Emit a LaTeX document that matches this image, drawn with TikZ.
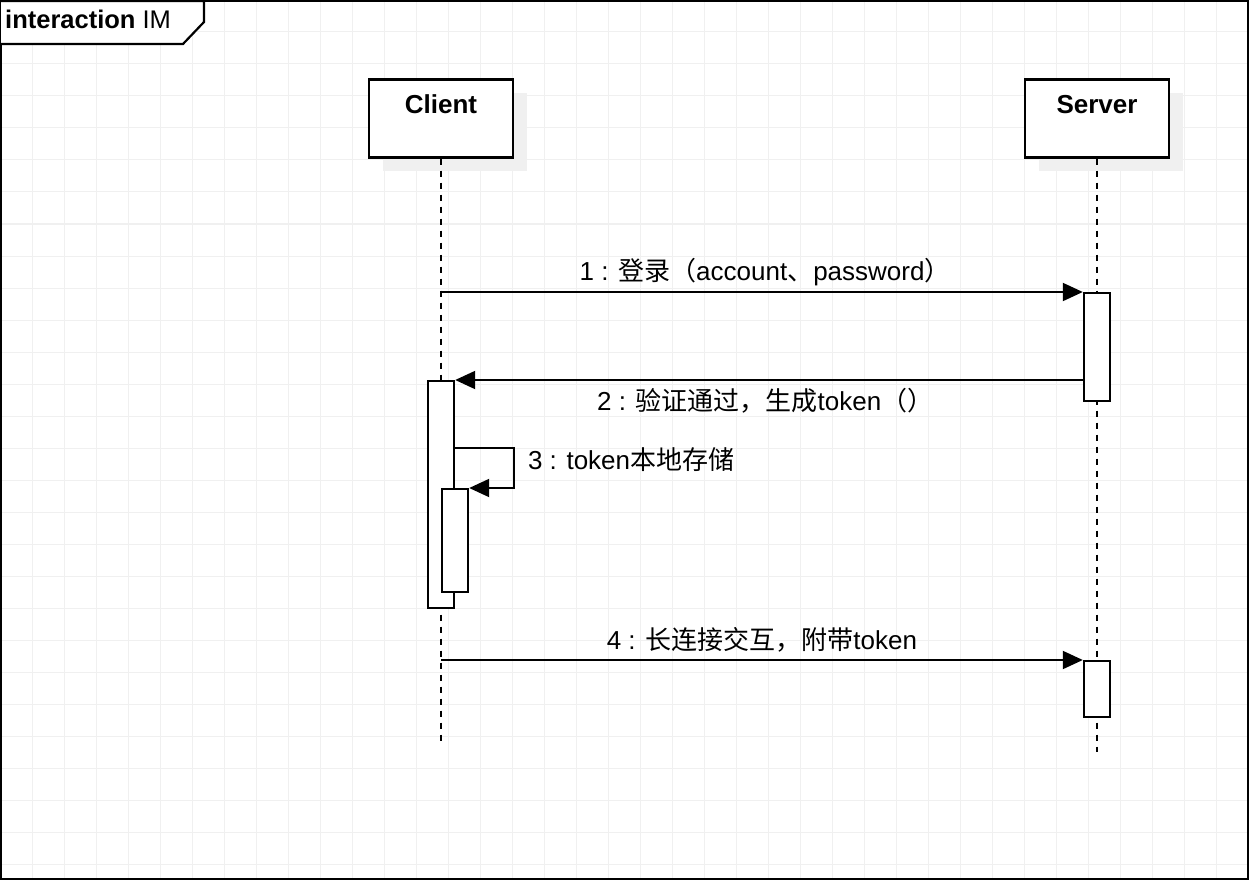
\documentclass[tikz,border=0pt]{standalone}
\usepackage{fontspec}
\setmainfont{Liberation Sans}
\newfontfamily\cjk{Noto Sans CJK SC}
\usepackage{tikz}
\usetikzlibrary{arrows.meta, positioning, calc, shadows}
\definecolor{gridgray}{RGB}{240, 240, 240}
\definecolor{shadowgray}{RGB}{240, 240, 240}
\newcommand{\zh}[1]{{\cjk #1}}

\tikzset{
    gridline/.style={gridgray, line width=1pt},
    head/.style={draw, line width=2.4pt, fill=white, minimum width=144pt, minimum height=78pt,
        text height=18pt, text depth=27pt, font=\fontsize{26}{30}\selectfont\bfseries,
        general shadow={fill=shadowgray, shadow xshift=14pt, shadow yshift=-14pt}},
    lifeline/.style={line width=2pt, dash pattern=on 6pt off 6pt},
    act/.style={draw, line width=2.4pt, fill=white, minimum width=26pt, inner sep=0pt, anchor=north},
    msg/.style={line width=2pt, -{Triangle[length=20pt, width=18pt]}},
    msglabel/.style={inner sep=0pt, text height=19pt, text depth=6pt, font=\fontsize{26}{30}\selectfont}
}

\begin{document}
\begin{tikzpicture}[x=1pt, y=-1pt]
    \useasboundingbox (0,0) rectangle (1254,880);

    % 网格
    \foreach \gx in {32,64,...,1216}
        \draw[gridline] (\gx,1) -- (\gx,879);
    \foreach \gy in {32,64,...,864}
        \draw[gridline] (1,\gy) -- (1248,\gy);

    % 外框和标题
    \draw[line width=2.2pt] (1,1) rectangle (1248,879);
    \draw[line width=2.2pt, fill=white] (1,1) -- (204,1) -- (204,22) -- (183,44) -- (1,44);
    \node[anchor=base west, inner sep=0pt, font=\fontsize{25.5}{30}\selectfont] (title) at (5,29) {\textbf{interaction} IM};

    % 生命线
    \node[head] (client) at (441,118.5) {Client};
    \node[head] (server) at (1097,118.5) {Server};
    \coordinate (clientend) at (441,742);
    \coordinate (serverend) at (1097,752);
    \draw[lifeline] (client.south) -- (clientend);
    \draw[lifeline] (server.south) -- (serverend);

    % 激活条
    \node[act, minimum height=108pt] (sact1) at (1097,292) {};
    \node[act, minimum height=227pt] (cact1) at (441,380) {};
    \node[act, minimum height=103pt] (cact2) at (455,488) {};
    \node[act, minimum height=56pt] (sact2) at (1097,660) {};

    % 消息
    \draw[msg] (client.south |- sact1.north west) -- (sact1.north west)
        node[msglabel, above=5pt, pos=0.505] (m1) {1 : \zh{登录（}account\zh{、}password\zh{）}};
    \draw[msg] (sact1.west |- cact1.north east) -- (cact1.north east)
        node[msglabel, below=10pt, pos=0.506] (m2) {2 : \zh{验证通过，生成}token\zh{（）}};
    \coordinate (loop) at (514,448);
    \draw[msg] (cact1.east |- loop) -- (loop)
        node[msglabel, anchor=north west, xshift=13pt, yshift=-1pt] (m3) {3 : token\zh{本地存储}}
        |- (cact2.north east);
    \draw[msg] (client.south |- sact2.north west) -- (sact2.north west)
        node[msglabel, above=4pt, pos=0.5] (m4) {4 : \zh{长连接交互，附带}token};
\end{tikzpicture}
\end{document}
